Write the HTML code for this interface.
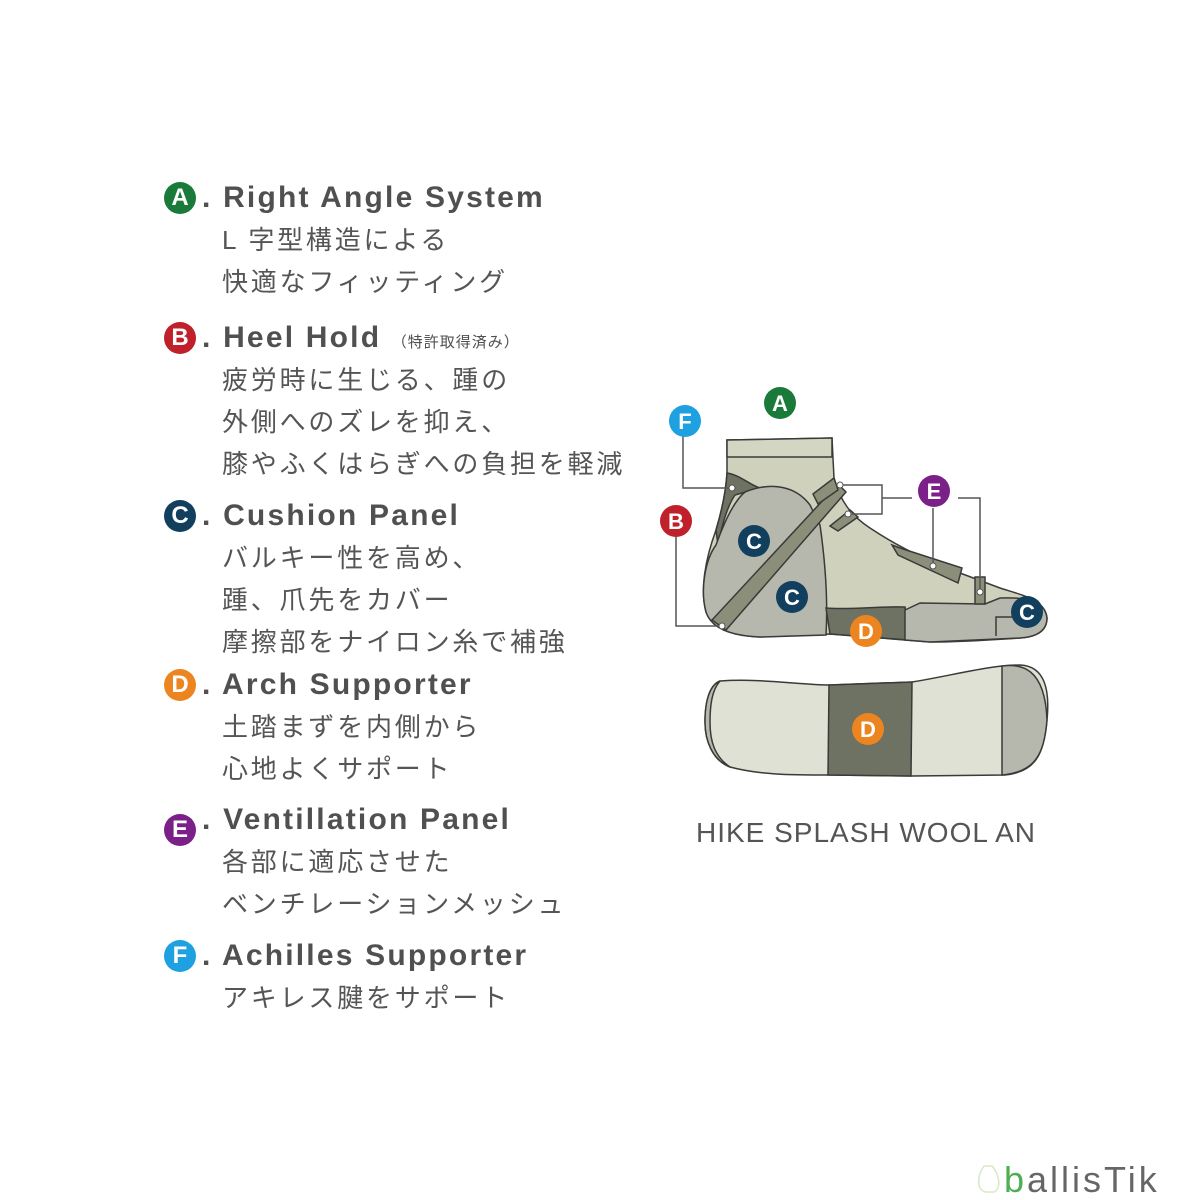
<!DOCTYPE html>
<html><head><meta charset="utf-8"><style>
body{margin:0;width:1200px;height:1200px;background:#fff;position:relative;overflow:hidden;font-family:"Liberation Sans","Noto Sans CJK JP",sans-serif;color:#555}
.h{position:absolute;left:202px;font-size:30px;font-weight:bold;letter-spacing:2.2px;line-height:36px;color:#505050}
.j{position:absolute;left:222px;font-size:26px;letter-spacing:2.8px;line-height:34px;color:#555}
.b{position:absolute;width:32px;height:32px;border-radius:50%;color:#fff;font-weight:bold;font-size:24px;text-align:center;line-height:32px;left:164px}
.s{font-size:15px;font-weight:normal;letter-spacing:1px}
</style></head><body>
<div class="b" style="top:182px;background:#1a7a3a">A</div><div class="h" style="top:180px">. Right Angle System</div>
<div class="j" style="top:223px">L 字型構造による</div>
<div class="j" style="top:265px">快適なフィッティング</div>
<div class="b" style="top:322px;background:#c0202a">B</div><div class="h" style="top:320px">. Heel Hold <span class="s">（特許取得済み）</span></div>
<div class="j" style="top:363px">疲労時に生じる、踵の</div>
<div class="j" style="top:405px">外側へのズレを抑え、</div>
<div class="j" style="top:447px">膝やふくはらぎへの負担を軽減</div>
<div class="b" style="top:500px;background:#123f5e">C</div><div class="h" style="top:498px">. Cushion Panel</div>
<div class="j" style="top:541px">バルキー性を高め、</div>
<div class="j" style="top:583px">踵、爪先をカバー</div>
<div class="j" style="top:625px">摩擦部をナイロン糸で補強</div>
<div class="b" style="top:669px;background:#ec8420">D</div><div class="h" style="top:667px">. Arch Supporter</div>
<div class="j" style="top:710px">土踏まずを内側から</div>
<div class="j" style="top:752px">心地よくサポート</div>
<div class="b" style="top:814px;background:#7a2088">E</div><div class="h" style="top:802px">. Ventillation Panel</div>
<div class="j" style="top:845px">各部に適応させた</div>
<div class="j" style="top:887px">ベンチレーションメッシュ</div>
<div class="b" style="top:940px;background:#1fa0e0">F</div><div class="h" style="top:938px">. Achilles Supporter</div>
<div class="j" style="top:981px">アキレス腱をサポート</div>

<svg width="1200" height="1200" style="position:absolute;left:0;top:0" viewBox="0 0 1200 1200">
<g stroke="#3a3a38" stroke-width="1.5">
<path d="M727,440 L832,438 L834,478 C840,500 850,515 870,528 C900,548 930,562 960,573 L1000,588 C1025,596 1045,600 1047,618 C1047,632 1035,637 1020,638 C990,640 960,642 930,642 L905,640 L830,634 L760,637 C735,636 712,630 706,612 C700,590 705,560 716,530 C722,510 726,490 727,473 Z" fill="#cfd1bd"/>
<path d="M727,440 L832,438 L832,457 L727,457 Z" fill="#d4d6c4"/>
<path d="M727,473 C740,475 750,485 760,488 L735,495 C728,505 722,525 718,545 L716,530 C722,510 726,490 727,473Z" fill="#6e7262"/>
<path d="M745,492 C770,482 795,485 810,505 L820,525 C825,560 828,600 826,635 L760,637 C735,636 712,630 706,612 C700,590 705,560 716,545 C725,520 735,500 745,492Z" fill="#b6b7ad"/>
<path d="M826,608 C850,610 880,606 905,607 L908,640 L830,634 Z" fill="#6e7262"/>
<path d="M905,610 L920,603 L985,604 L1000,598 C1025,597 1045,600 1047,618 C1047,632 1035,637 1020,638 L930,642 L905,640 Z" fill="#b6b7ad"/>
<path d="M996,636 L996,617 L1012,617" fill="none"/>
<path d="M712,620 L838,484 L846,492 L726,630 Z" fill="#8b8e78"/>
<path d="M813,494 L834,478 L838,490 L818,504Z" fill="#8b8e78"/>
<path d="M830,526 L850,510 L858,517 L838,531Z" fill="#8b8e78"/>
<path d="M892,545 L898,555 L958,583 L962,568 L900,548Z" fill="#8b8e78"/>
<path d="M975,577 L985,577 L985,604 L975,604Z" fill="#8b8e78"/>
</g>
<g stroke="#555" stroke-width="1.5" fill="none">
<path d="M683,433 L683,488 L732,488"/>
<path d="M676,535 L676,626 L720,626"/>
<path d="M840,485 L882,485 L882,514 L848,514 M882,498 L912,498"/>
<path d="M933,508 L933,565"/>
<path d="M958,498 L980,498 L980,592"/>
</g>
<g fill="#fff" stroke="#555" stroke-width="1"><circle cx="732" cy="488" r="3"/><circle cx="722" cy="626" r="3"/><circle cx="840" cy="485" r="3"/><circle cx="848" cy="514" r="3"/><circle cx="933" cy="566" r="3"/><circle cx="980" cy="592" r="3"/></g>
<g stroke="#3a3a38" stroke-width="1.5">
<path d="M720,681 C760,678 800,685 830,685 L912,682 C950,676 990,665 1020,665 C1045,666 1050,690 1047,720 C1044,755 1035,772 1005,775 L912,776 L830,775 C790,775 760,775 730,767 C712,760 705,740 705,722 C705,700 710,685 720,681Z" fill="#dfe1d5"/>
<path d="M720,681 C712,690 710,705 710,722 C710,742 715,757 730,767 C712,760 705,740 705,722 C705,700 710,685 720,681Z" fill="#b6b7ad"/>
<path d="M829,685 L912,682 L911,776 L828,775Z" fill="#6e7262"/>
<path d="M1002,666 C1020,664 1045,666 1047,720 C1044,755 1035,772 1002,775Z" fill="#b6b7ad"/>
</g>
<g font-family="Liberation Sans,sans-serif" font-weight="bold" font-size="22" fill="#fff" text-anchor="middle">
<circle cx="780" cy="403" r="16" fill="#1a7a3a"/><text x="780" y="411">A</text>
<circle cx="685" cy="421" r="16" fill="#1fa0e0"/><text x="685" y="429">F</text>
<circle cx="676" cy="521" r="16" fill="#c0202a"/><text x="676" y="529">B</text>
<circle cx="934" cy="491" r="16" fill="#7a2088"/><text x="934" y="499">E</text>
<circle cx="754" cy="541" r="16" fill="#123f5e"/><text x="754" y="549">C</text>
<circle cx="792" cy="597" r="16" fill="#123f5e"/><text x="792" y="605">C</text>
<circle cx="1027" cy="612" r="16" fill="#123f5e"/><text x="1027" y="620">C</text>
<circle cx="866" cy="631" r="16" fill="#ec8420"/><text x="866" y="639">D</text>
<circle cx="868" cy="729" r="16" fill="#ec8420"/><text x="868" y="737">D</text>
</g>
<text x="866" y="842" font-family="Liberation Sans,sans-serif" font-size="28" letter-spacing="1" fill="#555" text-anchor="middle">HIKE SPLASH WOOL AN</text>
<path d="M984,1166 C977,1176 976,1190 986,1192 L994,1192 C1002,1188 999,1174 992,1166 Z" fill="none" stroke="#d8e8c8" stroke-width="1.5"/>
<text x="1004" y="1192" font-family="Liberation Sans,sans-serif" font-size="36" letter-spacing="3" fill="#666"><tspan fill="#4caf50">b</tspan>allisTik</text>
</svg>
</body></html>
